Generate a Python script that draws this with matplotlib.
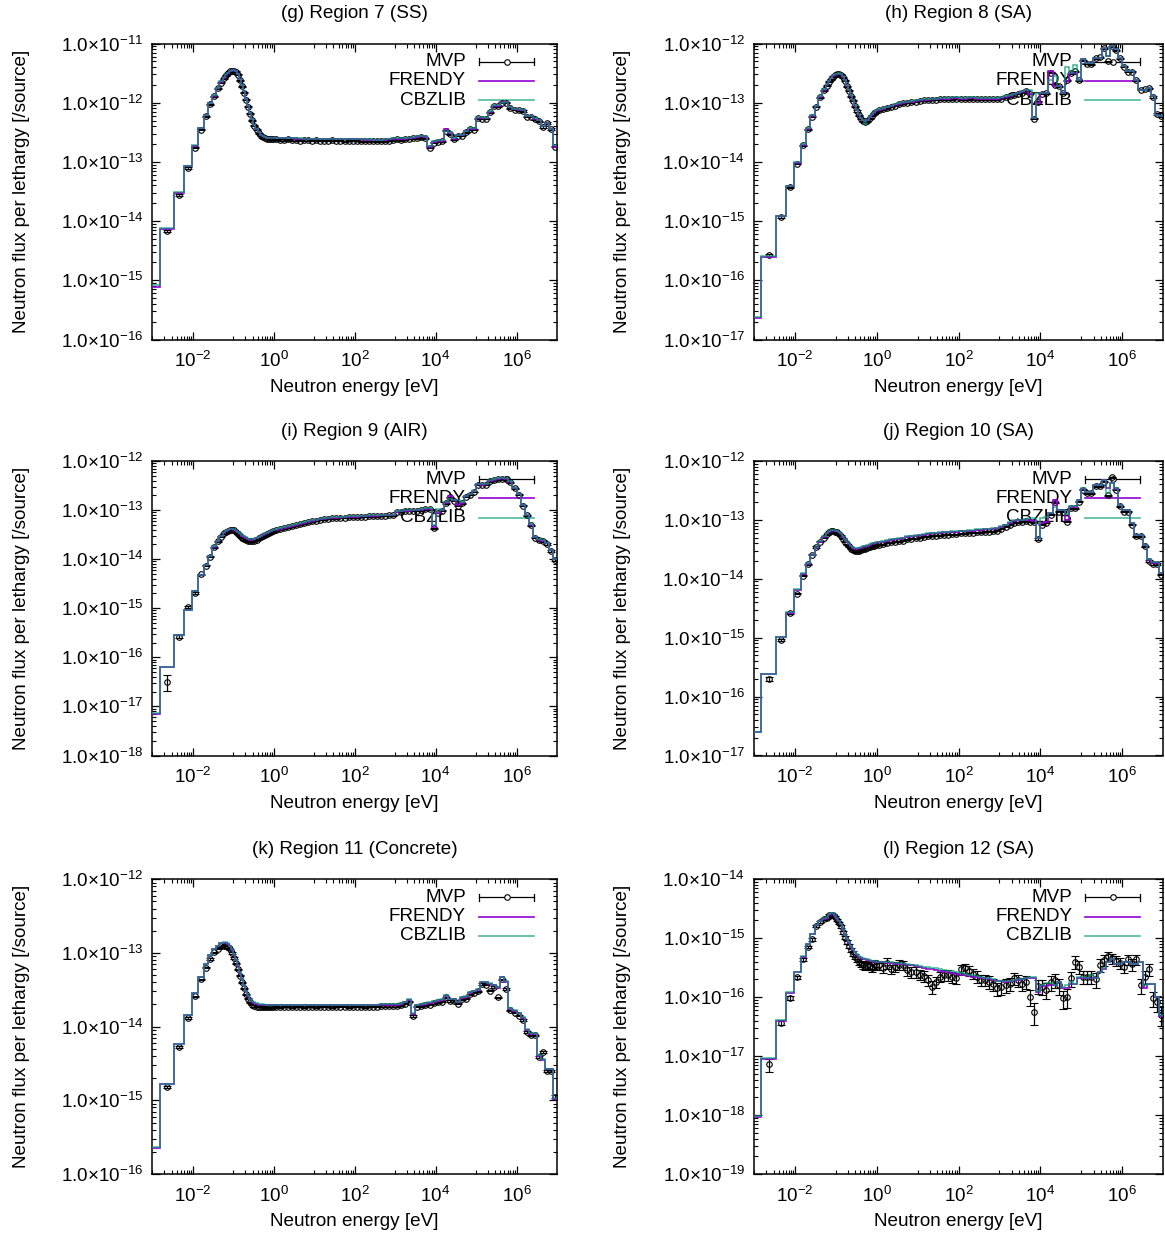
import numpy as np
import matplotlib
matplotlib.use("Agg")
import matplotlib.pyplot as plt
from matplotlib.ticker import FixedLocator, FuncFormatter, LogLocator, NullFormatter
from matplotlib.lines import Line2D

plt.rcParams['font.family'] = ['Liberation Sans', 'DejaVu Sans']
plt.rcParams['mathtext.fontset'] = 'custom'
plt.rcParams['mathtext.rm'] = 'Liberation Sans'
plt.rcParams['mathtext.it'] = 'Liberation Sans:italic'
plt.rcParams['mathtext.bf'] = 'Liberation Sans:bold'

# ---------------------------------------------------------------- energy groups
# log10 of the group boundaries [eV]
LOG_E_EDGES = [
    -3.42, -2.82, -2.47, -2.22, -2.02, -1.86, -1.73, -1.62, -1.52, -1.43, -1.34, -1.25,
    -1.20, -1.15, -1.10, -1.05, -1.00, -0.95, -0.90, -0.85, -0.80, -0.75, -0.70, -0.65,
    -0.60, -0.55, -0.50, -0.45, -0.40, -0.35, -0.30, -0.25, -0.20, -0.15, -0.10, -0.05, 0.00,
    0.1, 0.2, 0.3, 0.4, 0.5, 0.6, 0.7, 0.8, 0.9, 1.0,
    1.1, 1.2, 1.3, 1.4, 1.5, 1.6, 1.7, 1.8, 1.9, 2.0,
    2.1, 2.2, 2.3, 2.4, 2.5, 2.6, 2.7, 2.8, 2.9, 3.0,
    3.1, 3.2, 3.3, 3.4, 3.5, 3.6, 3.7, 3.8, 3.9, 4.0,
    4.1, 4.2, 4.3, 4.4, 4.5, 4.6, 4.7, 4.8, 4.9, 5.0,
    5.1, 5.2, 5.3, 5.4, 5.5, 5.6, 5.7, 5.8, 5.9, 6.0,
    6.1, 6.2, 6.3, 6.4, 6.5, 6.6, 6.7, 6.8, 6.9, 7.0,
]

# ---------------------------------------------------------------- fluxes (log10 of flux per lethargy)
# Region 7 (SS)
g_frendy = [
    -15.12, -14.13, -13.52, -13.07, -12.73, -12.43, -12.21, -12.01, -11.88, -11.75, -11.65,
    -11.58, -11.53, -11.49, -11.47, -11.46, -11.45, -11.47, -11.52, -11.60, -11.70, -11.81, -11.93, -12.05,
    -12.17, -12.28, -12.37, -12.44, -12.50, -12.54, -12.56, -12.58, -12.59, -12.59, -12.60, -12.60,
    -12.60, -12.60, -12.60, -12.60, -12.60, -12.61, -12.61, -12.61, -12.61, -12.61,
    -12.61, -12.61, -12.61, -12.62, -12.62, -12.62, -12.62, -12.62, -12.62, -12.62,
    -12.62, -12.62, -12.63, -12.63, -12.63, -12.63, -12.63, -12.63, -12.62, -12.61,
    -12.61, -12.61, -12.61, -12.60, -12.59, -12.58, -12.57, -12.58, -12.74, -12.66,
    -12.64, -12.64, -12.45, -12.52, -12.61, -12.55, -12.55, -12.48, -12.44, -12.44,
    -12.25, -12.25, -12.26, -12.15, -12.05, -12.05, -11.99, -11.99, -12.08, -12.11,
    -12.12, -12.13, -12.23, -12.23, -12.27, -12.30, -12.40, -12.35, -12.45, -12.74,
]
g_cbzlib = [
    -15.08, -14.12, -13.51, -13.07, -12.72, -12.43, -12.20, -12.01, -11.87, -11.75, -11.64,
    -11.57, -11.52, -11.49, -11.46, -11.45, -11.45, -11.47, -11.52, -11.60, -11.70, -11.81, -11.93, -12.05,
    -12.17, -12.28, -12.37, -12.44, -12.50, -12.54, -12.56, -12.58, -12.59, -12.59, -12.59, -12.59,
    -12.59, -12.59, -12.60, -12.60, -12.60, -12.60, -12.60, -12.61, -12.61, -12.61,
    -12.61, -12.61, -12.61, -12.61, -12.61, -12.62, -12.62, -12.62, -12.62, -12.62,
    -12.62, -12.62, -12.62, -12.62, -12.63, -12.63, -12.63, -12.62, -12.61, -12.60,
    -12.60, -12.60, -12.60, -12.59, -12.58, -12.57, -12.56, -12.57, -12.73, -12.64,
    -12.63, -12.63, -12.47, -12.50, -12.59, -12.54, -12.54, -12.47, -12.43, -12.43,
    -12.24, -12.24, -12.25, -12.14, -12.04, -12.04, -12.00, -11.99, -12.07, -12.10,
    -12.11, -12.12, -12.22, -12.22, -12.26, -12.29, -12.39, -12.34, -12.44, -12.72,
]
g_mvp = [
    -15.14, -14.16, -13.56, -13.10, -12.76, -12.46, -12.23, -12.03, -11.89, -11.76, -11.66,
    -11.59, -11.54, -11.50, -11.47, -11.46, -11.46, -11.48, -11.53, -11.62, -11.72, -11.83, -11.95, -12.07,
    -12.19, -12.30, -12.39, -12.46, -12.52, -12.56, -12.58, -12.60, -12.61, -12.61, -12.62, -12.62,
    -12.62, -12.63, -12.63, -12.62, -12.63, -12.63, -12.64, -12.63, -12.63, -12.64,
    -12.63, -12.64, -12.64, -12.64, -12.63, -12.64, -12.64, -12.65, -12.64, -12.64,
    -12.64, -12.65, -12.65, -12.65, -12.64, -12.65, -12.65, -12.65, -12.64, -12.63,
    -12.62, -12.63, -12.62, -12.61, -12.60, -12.60, -12.58, -12.60, -12.76, -12.68,
    -12.66, -12.65, -12.47, -12.53, -12.62, -12.56, -12.56, -12.50, -12.45, -12.46,
    -12.26, -12.27, -12.27, -12.16, -12.06, -12.06, -12.00, -12.00, -12.09, -12.12,
    -12.13, -12.14, -12.24, -12.24, -12.28, -12.31, -12.41, -12.34, -12.44, -12.74,
]
g_err = [
    6, 4, 3, 3, 2, 2, 2, 2, 2, 2, 2,
    2, 2, 2, 2, 2, 2, 2, 2, 2, 2, 2, 2, 2, 2, 2, 2, 2, 2, 2, 2, 2, 2, 2, 2, 2,
    2, 2, 2, 2, 2, 2, 2, 2, 2, 2, 2, 2, 2, 2, 2, 2, 2, 2, 2, 2, 2, 2, 2, 2, 2, 2, 2, 2, 2, 2,
    2, 2, 2, 2, 2, 2, 2, 2, 3, 2, 2, 2, 2, 2, 2, 2, 2, 2, 2, 2,
    2, 2, 2, 2, 2, 2, 2, 2, 2, 2, 2, 2, 2, 2, 2, 2, 3, 3, 3, 3,
]

# Region 8 (SA)
h_frendy = [
    -16.63, -15.60, -14.92, -14.41, -14.02, -13.71, -13.44, -13.23, -13.06, -12.90, -12.78,
    -12.70, -12.64, -12.59, -12.55, -12.53, -12.52, -12.51, -12.52, -12.56, -12.62, -12.71, -12.79, -12.88,
    -12.96, -13.05, -13.13, -13.20, -13.26, -13.30, -13.31, -13.30, -13.24, -13.20, -13.17, -13.14,
    -13.12, -13.10, -13.08, -13.06, -13.04, -13.02, -13.00, -12.99, -12.98, -12.97,
    -12.96, -12.95, -12.95, -12.94, -12.94, -12.93, -12.93, -12.93, -12.92, -12.92,
    -12.93, -12.93, -12.92, -12.92, -12.93, -12.93, -12.93, -12.93, -12.93, -12.93,
    -12.92, -12.90, -12.88, -12.86, -12.84, -12.82, -12.79, -12.86, -13.25, -13.00,
    -12.83, -12.83, -12.47, -12.72, -12.72, -12.83, -12.64, -12.49, -12.49, -12.61,
    -12.27, -12.33, -12.33, -12.24, -12.24, -12.07, -12.21, -12.04, -12.10, -12.24,
    -12.38, -12.47, -12.47, -12.61, -12.78, -12.78, -12.75, -12.89, -13.20, -13.22,
]
h_cbzlib = [
    -16.62, -15.59, -14.91, -14.40, -14.01, -13.70, -13.42, -13.21, -13.05, -12.89, -12.77,
    -12.69, -12.63, -12.58, -12.54, -12.52, -12.51, -12.50, -12.51, -12.55, -12.61, -12.70, -12.78, -12.87,
    -12.95, -13.04, -13.12, -13.19, -13.25, -13.30, -13.36, -13.29, -13.23, -13.19, -13.16, -13.13,
    -13.11, -13.09, -13.07, -13.05, -13.03, -13.01, -12.99, -12.98, -12.97, -12.96,
    -12.95, -12.94, -12.94, -12.93, -12.93, -12.92, -12.92, -12.92, -12.91, -12.91,
    -12.92, -12.92, -12.91, -12.91, -12.92, -12.92, -12.92, -12.92, -12.92, -12.92,
    -12.91, -12.89, -12.87, -12.85, -12.83, -12.81, -12.78, -12.78, -13.25, -12.83,
    -12.83, -12.83, -12.62, -12.55, -12.72, -12.83, -12.40, -12.49, -12.37, -12.61,
    -12.27, -12.33, -12.33, -12.24, -12.24, -12.07, -12.21, -12.04, -12.10, -12.24,
    -12.38, -12.47, -12.47, -12.61, -12.78, -12.78, -12.75, -12.89, -13.20, -13.22,
]
h_mvp = [
    -16.65, -15.58, -14.93, -14.43, -14.03, -13.72, -13.45, -13.24, -13.07, -12.91, -12.79,
    -12.71, -12.65, -12.60, -12.56, -12.54, -12.52, -12.52, -12.53, -12.57, -12.63, -12.72, -12.80, -12.89,
    -12.97, -13.06, -13.14, -13.21, -13.27, -13.31, -13.32, -13.31, -13.26, -13.22, -13.18, -13.15,
    -13.13, -13.11, -13.09, -13.07, -13.05, -13.03, -13.01, -13.00, -12.99, -12.98,
    -12.97, -12.96, -12.96, -12.95, -12.95, -12.94, -12.94, -12.94, -12.94, -12.93,
    -12.94, -12.94, -12.94, -12.93, -12.94, -12.94, -12.94, -12.94, -12.94, -12.94,
    -12.93, -12.91, -12.89, -12.87, -12.85, -12.83, -12.80, -12.85, -13.27, -12.98,
    -12.85, -12.84, -12.49, -12.70, -12.72, -12.84, -12.62, -12.50, -12.47, -12.62,
    -12.29, -12.34, -12.35, -12.25, -12.23, -12.08, -12.30, -12.05, -12.11, -12.25,
    -12.39, -12.48, -12.48, -12.62, -12.78, -12.77, -12.76, -12.90, -13.19, -13.22,
]
h_err = [
    8, 4, 3, 3, 2, 2, 2, 2, 2, 2, 2,
    2, 2, 2, 2, 2, 2, 2, 2, 2, 2, 2, 2, 2, 2, 2, 2, 2, 2, 2, 2, 2, 2, 2, 2, 2,
    2, 2, 2, 2, 2, 2, 2, 2, 2, 2, 2, 2, 2, 2, 2, 2, 2, 2, 2, 2, 2, 2, 2, 2, 2, 2, 2, 2, 2, 2,
    2, 2, 2, 2, 2, 2, 2, 2, 3, 2, 2, 2, 2, 2, 2, 2, 2, 2, 2, 2,
    2, 2, 2, 2, 2, 2, 2, 2, 2, 2, 2, 2, 2, 2, 2, 2, 2, 3, 3, 3,
]

# Region 9 (AIR)
i_frendy = [
    -17.15, -16.20, -15.55, -15.04, -14.65, -14.33, -14.12, -13.94, -13.75, -13.63, -13.53,
    -13.46, -13.43, -13.41, -13.39, -13.39, -13.40, -13.42, -13.45, -13.48, -13.52, -13.54, -13.56, -13.59,
    -13.60, -13.60, -13.59, -13.57, -13.55, -13.53, -13.51, -13.49, -13.47, -13.45, -13.43, -13.41,
    -13.40, -13.38, -13.36, -13.34, -13.32, -13.30, -13.28, -13.26, -13.24, -13.22,
    -13.21, -13.19, -13.18, -13.17, -13.16, -13.16, -13.15, -13.15, -13.14, -13.14,
    -13.14, -13.13, -13.13, -13.12, -13.12, -13.12, -13.11, -13.11, -13.10, -13.10,
    -13.03, -13.02, -13.01, -13.01, -13.00, -13.00, -12.99, -12.97, -12.97, -13.35,
    -13.05, -13.00, -12.85, -12.72, -12.80, -12.90, -12.85, -12.72, -12.68, -12.62,
    -12.47, -12.48, -12.47, -12.40, -12.38, -12.36, -12.35, -12.36, -12.42, -12.55,
    -12.68, -12.90, -13.10, -13.30, -13.55, -13.60, -13.62, -13.68, -13.82, -14.00,
]
i_cbzlib = [
    -17.13, -16.19, -15.54, -15.03, -14.64, -14.32, -14.11, -13.93, -13.74, -13.62, -13.52,
    -13.45, -13.42, -13.40, -13.38, -13.38, -13.39, -13.41, -13.44, -13.47, -13.51, -13.53, -13.55, -13.58,
    -13.59, -13.59, -13.58, -13.56, -13.54, -13.52, -13.49, -13.47, -13.46, -13.44, -13.42, -13.40,
    -13.39, -13.37, -13.35, -13.33, -13.31, -13.29, -13.27, -13.25, -13.23, -13.21,
    -13.20, -13.18, -13.17, -13.16, -13.15, -13.15, -13.14, -13.14, -13.13, -13.13,
    -13.13, -13.12, -13.12, -13.11, -13.11, -13.11, -13.10, -13.10, -13.09, -13.09,
    -13.02, -13.01, -13.00, -13.00, -12.99, -12.99, -12.98, -12.96, -12.96, -13.30,
    -12.98, -12.99, -12.84, -12.78, -12.79, -12.80, -12.84, -12.71, -12.67, -12.61,
    -12.46, -12.47, -12.46, -12.39, -12.37, -12.35, -12.34, -12.35, -12.41, -12.54,
    -12.67, -12.89, -13.09, -13.29, -13.54, -13.59, -13.61, -13.67, -13.81, -13.99,
]
i_mvp = [
    -17.20, -16.50, -15.58, -14.97, -14.68, -14.31, -14.13, -13.95, -13.76, -13.64, -13.54,
    -13.47, -13.44, -13.42, -13.40, -13.40, -13.41, -13.44, -13.48, -13.52, -13.56, -13.59, -13.61, -13.63,
    -13.64, -13.63, -13.62, -13.60, -13.57, -13.55, -13.53, -13.51, -13.49, -13.47, -13.45, -13.43,
    -13.41, -13.39, -13.37, -13.35, -13.33, -13.31, -13.29, -13.27, -13.25, -13.23,
    -13.22, -13.20, -13.19, -13.18, -13.17, -13.17, -13.16, -13.16, -13.15, -13.15,
    -13.15, -13.14, -13.14, -13.13, -13.13, -13.13, -13.12, -13.12, -13.11, -13.11,
    -13.04, -13.03, -13.02, -13.02, -13.01, -13.01, -13.00, -12.98, -12.98, -13.37,
    -13.06, -13.01, -12.86, -12.74, -12.81, -12.91, -12.86, -12.73, -12.69, -12.63,
    -12.48, -12.49, -12.48, -12.41, -12.39, -12.37, -12.36, -12.37, -12.43, -12.56,
    -12.69, -12.91, -13.11, -13.31, -13.56, -13.61, -13.63, -13.69, -13.83, -14.01,
]
i_err = [
    40, 35, 8, 6, 5, 4, 3, 3, 3, 3, 3,
    3, 3, 3, 3, 3, 3, 3, 3, 3, 3, 3, 3, 3, 3, 3, 3, 3, 3, 3, 3, 3, 3, 3, 3, 3,
    2, 2, 2, 2, 2, 2, 2, 2, 2, 2, 2, 2, 2, 2, 2, 2, 2, 2, 2, 2, 2, 2, 2, 2, 2, 2, 2, 2, 2, 2,
    2, 2, 2, 2, 2, 2, 2, 2, 2, 3, 2, 2, 2, 2, 2, 2, 2, 2, 2, 2,
    2, 2, 2, 2, 2, 2, 2, 2, 2, 2, 2, 2, 2, 3, 3, 3, 3, 3, 4, 4,
]

# Region 10 (SA)
j_frendy = [
    -16.60, -15.62, -14.99, -14.58, -14.19, -13.92, -13.75, -13.60, -13.47, -13.37, -13.29,
    -13.23, -13.20, -13.18, -13.18, -13.18, -13.19, -13.21, -13.24, -13.29, -13.33, -13.37, -13.41, -13.45,
    -13.47, -13.49, -13.49, -13.48, -13.47, -13.46, -13.45, -13.44, -13.42, -13.41, -13.40, -13.39,
    -13.38, -13.37, -13.35, -13.34, -13.33, -13.32, -13.31, -13.29, -13.28, -13.27,
    -13.26, -13.25, -13.24, -13.23, -13.23, -13.22, -13.21, -13.21, -13.20, -13.20,
    -13.19, -13.19, -13.18, -13.18, -13.17, -13.17, -13.16, -13.16, -13.15, -13.14,
    -13.12, -13.09, -13.05, -13.02, -13.01, -13.01, -13.00, -13.01, -13.02, -13.30,
    -13.06, -13.03, -12.89, -12.67, -12.84, -12.84, -13.00, -12.78, -12.78, -12.67,
    -12.47, -12.53, -12.53, -12.41, -12.41, -12.33, -12.45, -12.38, -12.47, -12.75,
    -12.84, -12.84, -13.06, -13.26, -13.26, -13.43, -13.68, -13.73, -13.73, -13.91,
]
j_cbzlib = [
    -16.60, -15.61, -14.98, -14.57, -14.18, -13.91, -13.74, -13.59, -13.46, -13.36, -13.28,
    -13.22, -13.19, -13.17, -13.17, -13.17, -13.18, -13.20, -13.23, -13.28, -13.32, -13.36, -13.40, -13.44,
    -13.46, -13.48, -13.48, -13.47, -13.46, -13.45, -13.44, -13.43, -13.41, -13.40, -13.39, -13.38,
    -13.37, -13.36, -13.34, -13.33, -13.32, -13.31, -13.30, -13.28, -13.27, -13.26,
    -13.25, -13.24, -13.23, -13.22, -13.22, -13.21, -13.20, -13.20, -13.19, -13.19,
    -13.18, -13.18, -13.17, -13.17, -13.16, -13.16, -13.15, -13.15, -13.14, -13.13,
    -13.11, -13.08, -13.04, -13.01, -13.00, -13.00, -12.99, -12.96, -12.96, -13.30,
    -12.96, -12.95, -12.88, -12.78, -12.83, -12.83, -12.90, -12.77, -12.77, -12.66,
    -12.46, -12.52, -12.52, -12.40, -12.40, -12.32, -12.55, -12.37, -12.46, -12.74,
    -12.83, -12.83, -13.05, -13.25, -13.25, -13.42, -13.67, -13.72, -13.72, -13.90,
]
j_mvp = [
    -16.62, -15.70, -15.04, -14.58, -14.25, -13.95, -13.75, -13.59, -13.46, -13.37, -13.30,
    -13.24, -13.21, -13.19, -13.19, -13.20, -13.21, -13.24, -13.27, -13.32, -13.37, -13.41, -13.45, -13.49,
    -13.51, -13.53, -13.53, -13.52, -13.51, -13.50, -13.49, -13.48, -13.46, -13.45, -13.44, -13.43,
    -13.42, -13.41, -13.39, -13.38, -13.37, -13.36, -13.35, -13.33, -13.32, -13.31,
    -13.30, -13.29, -13.28, -13.27, -13.27, -13.26, -13.25, -13.25, -13.24, -13.24,
    -13.23, -13.23, -13.22, -13.22, -13.21, -13.21, -13.20, -13.20, -13.19, -13.18,
    -13.15, -13.12, -13.08, -13.05, -13.04, -13.03, -13.02, -13.03, -13.04, -13.32,
    -13.08, -13.05, -12.91, -12.70, -12.86, -12.86, -13.03, -12.80, -12.80, -12.69,
    -12.49, -12.55, -12.55, -12.43, -12.43, -12.35, -12.58, -12.28, -12.49, -12.77,
    -12.86, -12.86, -13.08, -13.28, -13.28, -13.45, -13.70, -13.75, -13.75, -13.93,
]
j_err = [
    10, 6, 4, 3, 3, 2, 2, 2, 2, 2, 2,
    2, 2, 2, 2, 2, 2, 2, 2, 2, 2, 2, 2, 2, 2, 2, 2, 2, 2, 2, 2, 2, 2, 2, 2, 2,
    2, 2, 2, 2, 2, 2, 2, 2, 2, 2, 2, 2, 2, 2, 2, 2, 2, 2, 2, 2, 2, 2, 2, 2, 2, 2, 2, 2, 2, 2,
    2, 2, 2, 2, 2, 2, 2, 2, 2, 3, 2, 2, 2, 2, 2, 2, 2, 2, 2, 2,
    2, 2, 2, 2, 2, 2, 2, 2, 2, 2, 2, 2, 2, 2, 2, 3, 3, 3, 3, 3,
]

# Region 11 (Concrete)
k_frendy = [
    -15.65, -14.78, -14.24, -13.84, -13.55, -13.32, -13.15, -13.03, -12.95, -12.90, -12.87,
    -12.86, -12.86, -12.88, -12.91, -12.96, -13.03, -13.10, -13.18, -13.27, -13.36, -13.44, -13.52, -13.58,
    -13.63, -13.66, -13.68, -13.69, -13.70, -13.70, -13.70, -13.71, -13.71, -13.71, -13.71, -13.71,
    -13.71, -13.71, -13.71, -13.71, -13.71, -13.71, -13.71, -13.71, -13.71, -13.71,
    -13.71, -13.71, -13.71, -13.71, -13.71, -13.71, -13.71, -13.71, -13.71, -13.71,
    -13.71, -13.71, -13.71, -13.71, -13.71, -13.71, -13.70, -13.70, -13.70, -13.70,
    -13.70, -13.69, -13.67, -13.64, -13.83, -13.71, -13.70, -13.69, -13.68, -13.66,
    -13.65, -13.64, -13.58, -13.63, -13.63, -13.67, -13.61, -13.60, -13.54, -13.52,
    -13.50, -13.40, -13.40, -13.42, -13.44, -13.47, -13.33, -13.39, -13.76, -13.79,
    -13.82, -13.88, -14.04, -14.10, -14.10, -14.40, -14.45, -14.58, -14.58, -14.98,
]
k_cbzlib = [
    -15.64, -14.78, -14.24, -13.84, -13.55, -13.32, -13.15, -13.03, -12.95, -12.90, -12.86,
    -12.85, -12.85, -12.87, -12.90, -12.95, -13.02, -13.09, -13.17, -13.26, -13.35, -13.43, -13.51, -13.57,
    -13.62, -13.65, -13.67, -13.68, -13.69, -13.69, -13.69, -13.70, -13.70, -13.70, -13.70, -13.70,
    -13.70, -13.70, -13.70, -13.70, -13.70, -13.70, -13.70, -13.70, -13.70, -13.70,
    -13.70, -13.70, -13.70, -13.70, -13.70, -13.70, -13.70, -13.70, -13.70, -13.70,
    -13.70, -13.70, -13.70, -13.70, -13.70, -13.70, -13.69, -13.69, -13.69, -13.69,
    -13.69, -13.68, -13.66, -13.63, -13.82, -13.70, -13.69, -13.68, -13.67, -13.65,
    -13.64, -13.63, -13.57, -13.62, -13.62, -13.66, -13.60, -13.59, -13.53, -13.51,
    -13.49, -13.39, -13.39, -13.41, -13.43, -13.46, -13.32, -13.38, -13.75, -13.78,
    -13.81, -13.87, -14.03, -14.09, -14.09, -14.39, -14.44, -14.57, -14.57, -14.97,
]
k_mvp = [
    -15.67, -14.82, -14.27, -13.88, -13.59, -13.36, -13.20, -13.08, -12.99, -12.94, -12.91,
    -12.90, -12.90, -12.92, -12.95, -13.00, -13.07, -13.14, -13.22, -13.31, -13.40, -13.48, -13.56, -13.62,
    -13.67, -13.70, -13.72, -13.73, -13.73, -13.73, -13.73, -13.74, -13.74, -13.74, -13.74, -13.74,
    -13.73, -13.74, -13.73, -13.73, -13.74, -13.73, -13.73, -13.74, -13.73, -13.73,
    -13.74, -13.73, -13.73, -13.73, -13.74, -13.73, -13.73, -13.73, -13.74, -13.73,
    -13.73, -13.73, -13.74, -13.73, -13.73, -13.73, -13.72, -13.72, -13.72, -13.72,
    -13.72, -13.71, -13.69, -13.66, -13.85, -13.73, -13.72, -13.71, -13.70, -13.68,
    -13.67, -13.66, -13.60, -13.65, -13.65, -13.69, -13.63, -13.62, -13.56, -13.54,
    -13.52, -13.42, -13.43, -13.51, -13.46, -13.60, -13.36, -13.49, -13.78, -13.81,
    -13.85, -13.91, -14.07, -14.12, -14.12, -14.41, -14.35, -14.60, -14.60, -14.95,
]
k_err = [
    6, 4, 3, 3, 2, 2, 2, 2, 2, 2, 2,
    2, 2, 2, 2, 2, 2, 2, 2, 2, 2, 2, 2, 2, 2, 2, 2, 2, 2, 2, 2, 2, 2, 2, 2, 2,
    2, 2, 2, 2, 2, 2, 2, 2, 2, 2, 2, 2, 2, 2, 2, 2, 2, 2, 2, 2, 2, 2, 2, 2, 2, 2, 2, 2, 2, 2,
    2, 2, 2, 2, 3, 2, 2, 2, 2, 2, 2, 2, 2, 2, 2, 2, 2, 2, 2, 2,
    2, 2, 2, 2, 2, 2, 2, 2, 2, 2, 2, 2, 3, 3, 3, 3, 3, 3, 3, 4,
]

# Region 12 (SA)
l_frendy = [
    -18.03, -17.05, -16.40, -15.93, -15.58, -15.31, -15.10, -14.93, -14.78, -14.71, -14.67,
    -14.65, -14.60, -14.58, -14.59, -14.62, -14.67, -14.71, -14.76, -14.86, -14.95, -15.02, -15.08, -15.15,
    -15.20, -15.24, -15.28, -15.31, -15.33, -15.35, -15.36, -15.37, -15.38, -15.39, -15.40, -15.40,
    -15.41, -15.41, -15.42, -15.42, -15.43, -15.43, -15.44, -15.45, -15.46, -15.47,
    -15.49, -15.51, -15.52, -15.53, -15.54, -15.56, -15.57, -15.58, -15.59, -15.61,
    -15.62, -15.63, -15.64, -15.65, -15.66, -15.67, -15.68, -15.69, -15.71, -15.73,
    -15.73, -15.74, -15.73, -15.72, -15.71, -15.70, -15.68, -15.67, -15.67, -15.92,
    -15.81, -15.81, -15.80, -15.80, -15.75, -15.84, -15.84, -15.78, -15.78, -15.67,
    -15.67, -15.68, -15.68, -15.68, -15.58, -15.53, -15.41, -15.36, -15.44, -15.44,
    -15.41, -15.41, -15.44, -15.44, -15.41, -15.84, -15.78, -15.78, -16.00, -16.32,
]
l_cbzlib = [
    -18.02, -17.04, -16.39, -15.92, -15.57, -15.30, -15.09, -14.92, -14.77, -14.70, -14.66,
    -14.64, -14.59, -14.57, -14.58, -14.61, -14.66, -14.70, -14.75, -14.85, -14.94, -15.01, -15.07, -15.14,
    -15.19, -15.23, -15.27, -15.30, -15.32, -15.34, -15.35, -15.36, -15.37, -15.38, -15.39, -15.39,
    -15.40, -15.40, -15.41, -15.41, -15.42, -15.42, -15.43, -15.44, -15.45, -15.46,
    -15.47, -15.48, -15.49, -15.50, -15.51, -15.53, -15.54, -15.55, -15.56, -15.58,
    -15.59, -15.60, -15.62, -15.63, -15.64, -15.66, -15.67, -15.68, -15.70, -15.72,
    -15.72, -15.73, -15.72, -15.71, -15.70, -15.69, -15.67, -15.66, -15.66, -15.90,
    -15.80, -15.76, -15.76, -15.79, -15.74, -15.83, -15.80, -15.74, -15.77, -15.66,
    -15.66, -15.67, -15.62, -15.67, -15.57, -15.50, -15.40, -15.35, -15.43, -15.43,
    -15.40, -15.40, -15.43, -15.43, -15.40, -15.80, -15.77, -15.77, -15.99, -16.30,
]
l_mvp = [
    -18.10, -17.14, -16.43, -16.01, -15.66, -15.36, -15.15, -15.02, -14.80, -14.72, -14.68,
    -14.66, -14.61, -14.60, -14.61, -14.64, -14.69, -14.74, -14.80, -14.90, -14.99, -15.06, -15.13, -15.20,
    -15.26, -15.31, -15.36, -15.40, -15.44, -15.46, -15.48, -15.45, -15.47, -15.50, -15.44, -15.46,
    -15.45, -15.50, -15.42, -15.52, -15.48, -15.45, -15.46, -15.54, -15.57, -15.57,
    -15.62, -15.64, -15.71, -15.82, -15.74, -15.65, -15.62, -15.62, -15.66, -15.67,
    -15.53, -15.51, -15.55, -15.60, -15.65, -15.71, -15.71, -15.74, -15.78, -15.85,
    -15.82, -15.80, -15.77, -15.68, -15.71, -15.77, -15.74, -16.00, -16.25, -15.81,
    -15.82, -15.88, -15.75, -15.71, -15.80, -16.02, -15.99, -15.68, -15.40, -15.48,
    -15.65, -15.65, -15.65, -15.70, -15.45, -15.37, -15.30, -15.34, -15.38, -15.42,
    -15.48, -15.36, -15.44, -15.36, -15.80, -15.65, -15.53, -16.02, -16.09, -16.30,
]
l_err = [
    30, 25, 10, 8, 6, 5, 5, 5, 4, 4, 4,
    4, 4, 4, 4, 4, 5, 5, 5, 6, 6, 7, 8, 8, 9, 10, 10, 12, 12, 13, 14, 14, 15, 15, 16, 16,
    18, 18, 20, 18, 20, 20, 18, 20, 20, 22, 20, 22, 22, 25, 22, 20, 22, 22, 20, 22,
    18, 18, 20, 20, 22, 22, 22, 24, 24, 25,
    28, 26, 25, 24, 24, 26, 25, 30, 40, 28, 28, 30, 28, 28, 30, 35, 35, 28, 25, 25,
    25, 25, 25, 28, 25, 20, 18, 20, 20, 22, 22, 20, 22, 20, 28, 25, 22, 30, 30, 35,
]

PANELS = [
    dict(title="(g) Region 7 (SS)", ylog=(-16, -11), frendy=g_frendy, cbzlib=g_cbzlib, mvp=g_mvp, err=g_err),
    dict(title="(h) Region 8 (SA)", ylog=(-17, -12), frendy=h_frendy, cbzlib=h_cbzlib, mvp=h_mvp, err=h_err),
    dict(title="(i) Region 9 (AIR)", ylog=(-18, -12), frendy=i_frendy, cbzlib=i_cbzlib, mvp=i_mvp, err=i_err),
    dict(title="(j) Region 10 (SA)", ylog=(-17, -12), frendy=j_frendy, cbzlib=j_cbzlib, mvp=j_mvp, err=j_err),
    dict(title="(k) Region 11 (Concrete)", ylog=(-16, -12), frendy=k_frendy, cbzlib=k_cbzlib, mvp=k_mvp, err=k_err),
    dict(title="(l) Region 12 (SA)", ylog=(-19, -14), frendy=l_frendy, cbzlib=l_cbzlib, mvp=l_mvp, err=l_err),
]

# ---------------------------------------------------------------- styling
W, H = 1165, 1236
FS = 13.6
C_FRENDY = "#9400d3"
C_CBZLIB = "#009e73"
COL_X = [152.3, 754.0]
COL_W = [404.7, 409.0]
ROW_T = [43.5, 461.0, 879.3]
ROW_H = [296.0, 294.5, 294.7]

log_edges = np.array(LOG_E_EDGES)
edges = 10.0 ** log_edges
centers = 10.0 ** (0.5 * (log_edges[:-1] + log_edges[1:]))
n_groups = len(edges) - 1
for p in PANELS:
    for key in ("frendy", "cbzlib", "mvp", "err"):
        assert len(p[key]) == n_groups, (p["title"], key, len(p[key]))

fig = plt.figure(figsize=(W / 100, H / 100), dpi=100)


def y_fmt(v, pos):
    return r"$\mathregular{1.0×10^{%d}}$" % int(round(np.log10(v)))


def x_fmt(v, pos):
    return r"$\mathregular{10^{%d}}$" % int(round(np.log10(v)))


x_minor = [k * 10.0 ** d for d in (-3, -1, 1, 3, 5) for k in range(1, 10)]

for idx, p in enumerate(PANELS):
    r, c = divmod(idx, 2)
    x0, w = COL_X[c], COL_W[c]
    t, h = ROW_T[r], ROW_H[r]
    ax = fig.add_axes([x0 / W, 1 - (t + h) / H, w / W, h / H])

    frendy = 10.0 ** np.array(p["frendy"])
    cbzlib = 10.0 ** np.array(p["cbzlib"])
    mvp = 10.0 ** np.array(p["mvp"])
    err = mvp * np.array(p["err"]) / 100.0

    ax.errorbar(centers, mvp, yerr=err, fmt="o", ms=4.0, mfc="none", mec="black",
                mew=0.8, ecolor="black", elinewidth=0.9, capsize=2.6, capthick=0.9, zorder=3)
    ax.stairs(frendy, edges, baseline=None, color=C_FRENDY, lw=1.2, zorder=4)
    ax.stairs(cbzlib, edges, baseline=None, color=C_CBZLIB, lw=1.2, alpha=0.7, zorder=5)

    ax.set_xscale("log")
    ax.set_yscale("log")
    ax.set_xlim(1e-3, 1e7)
    lo, hi = p["ylog"]
    ax.set_ylim(10.0 ** lo, 10.0 ** hi)

    ax.xaxis.set_major_locator(FixedLocator([1e-2, 1e0, 1e2, 1e4, 1e6]))
    ax.xaxis.set_major_formatter(FuncFormatter(x_fmt))
    ax.xaxis.set_minor_locator(FixedLocator(x_minor))
    ax.xaxis.set_minor_formatter(NullFormatter())
    ax.yaxis.set_major_locator(FixedLocator(10.0 ** np.arange(lo, hi + 1)))
    ax.yaxis.set_major_formatter(FuncFormatter(y_fmt))
    ax.yaxis.set_minor_locator(LogLocator(base=10, subs=np.arange(2, 10), numticks=100))
    ax.yaxis.set_minor_formatter(NullFormatter())

    ax.tick_params(which="both", direction="in", top=True, right=True, labelsize=FS)
    ax.tick_params(which="major", length=6.0, width=0.9)
    ax.tick_params(which="minor", length=3.0, width=0.8)
    ax.tick_params(axis="x", which="major", pad=8.5)
    ax.tick_params(axis="y", which="major", pad=6.5)
    for s in ax.spines.values():
        s.set_linewidth(1.1)

    # panel title, axis titles
    fig.text((x0 + w / 2) / W, 1 - (t - 30) / H, p["title"], ha="center", va="center", fontsize=FS)
    fig.text((x0 + w / 2) / W, 1 - (t + h + 48) / H, "Neutron energy [eV]", ha="center", va="center", fontsize=FS)
    fig.text((x0 - 131) / W, 1 - (t + h / 2) / H, "Neutron flux per lethargy [/source]",
             ha="center", va="center", rotation=90, fontsize=FS)

    # key in the upper right corner, drawn beneath the data
    tx = 1 - 91 / w
    sx0, sx1 = 1 - 78 / w, 1 - 23 / w
    rows_y = [1 - 18 / h, 1 - 37.3 / h, 1 - 56.6 / h]
    for name, yy in zip(["MVP", "FRENDY", "CBZLIB"], rows_y):
        ax.text(tx, yy, name, transform=ax.transAxes, ha="right", va="center", fontsize=FS, zorder=1)
    yk = rows_y[0]
    cap = 3.5 / h
    ax.add_line(Line2D([sx0, sx1], [yk, yk], transform=ax.transAxes, color="black", lw=0.9, zorder=1))
    for xe in (sx0, sx1):
        ax.add_line(Line2D([xe, xe], [yk - cap, yk + cap], transform=ax.transAxes, color="black", lw=0.9, zorder=1))
    ax.add_line(Line2D([(sx0 + sx1) / 2], [yk], transform=ax.transAxes, marker="o", ms=4.0,
                       mfc="white", mec="black", mew=0.8, zorder=1))
    ax.add_line(Line2D([sx0, sx1], [rows_y[1]] * 2, transform=ax.transAxes, color=C_FRENDY, lw=1.2, zorder=1))
    ax.add_line(Line2D([sx0, sx1], [rows_y[2]] * 2, transform=ax.transAxes, color=C_CBZLIB, lw=1.2, alpha=0.7, zorder=1))

fig.savefig("out.png", dpi=100)
